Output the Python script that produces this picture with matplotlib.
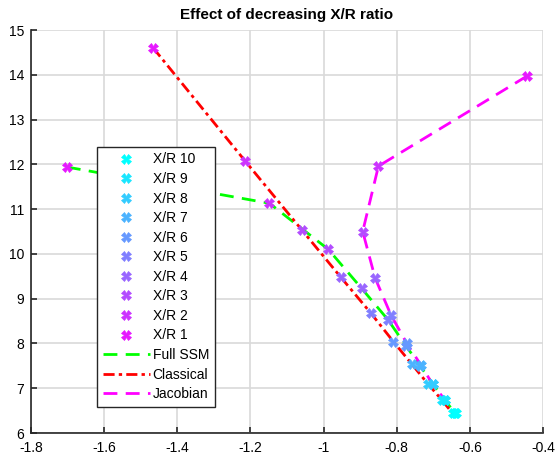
import matplotlib
matplotlib.use("Agg")
import matplotlib.pyplot as plt
from matplotlib.lines import Line2D
import numpy as np

plt.rcParams['font.family'] = ['Liberation Sans', 'DejaVu Sans']

xr_labels = ["X/R 10", "X/R 9", "X/R 8", "X/R 7", "X/R 6",
             "X/R 5", "X/R 4", "X/R 3", "X/R 2", "X/R 1"]
xr_values = [10, 9, 8, 7, 6, 5, 4, 3, 2, 1]

# points ordered X/R 1 .. 10
full_x = [-1.702, -1.148, -0.987, -0.896, -0.824, -0.775, -0.736, -0.702, -0.669, -0.641]
full_y = [11.94, 11.13, 10.10, 9.23, 8.53, 7.95, 7.50, 7.10, 6.74, 6.45]
class_x = [-1.466, -1.215, -1.060, -0.953, -0.871, -0.809, -0.759, -0.715, -0.677, -0.647]
class_y = [14.60, 12.08, 10.54, 9.48, 8.68, 8.04, 7.54, 7.10, 6.74, 6.44]
jac_x = [-0.444, -0.850, -0.893, -0.859, -0.816, -0.773, -0.734, -0.702, -0.668, -0.638]
jac_y = [13.97, 11.96, 10.50, 9.46, 8.64, 8.01, 7.52, 7.09, 6.74, 6.44]

fig = plt.figure(figsize=(5.55, 4.61), dpi=100)
ax = fig.add_axes([31/555, 28/461, 512/555, 403/461])

cmap = plt.get_cmap('cool')
def col(k):
    return cmap((10 - k) / 10)

ax.plot(full_x, full_y, color=(0, 1, 0), ls=(0, (5, 3)), lw=2, zorder=2)
ax.plot(class_x, class_y, color=(1, 0, 0), ls=(0, (4, 1.5, 1.2, 1.5)), lw=2, zorder=2)
ax.plot(jac_x, jac_y, color=(1, 0, 1), ls=(0, (5, 3)), lw=2, zorder=2)

handles = []
for lab, k in zip(xr_labels, xr_values):
    i = k - 1
    c = col(k)
    ax.plot([full_x[i], class_x[i], jac_x[i]], [full_y[i], class_y[i], jac_y[i]],
            ls='none', marker='X', ms=7, mfc=c, mec=c, mew=0.5, zorder=3)
    handles.append(Line2D([], [], ls='none', marker='X', ms=7, mfc=c, mec=c, mew=0.5, label=lab))

handles.append(Line2D([], [], color=(0, 1, 0), ls=(0, (5, 3)), lw=2, label='Full SSM'))
handles.append(Line2D([], [], color=(1, 0, 0), ls=(0, (4, 1.5, 1.2, 1.5)), lw=2, label='Classical'))
handles.append(Line2D([], [], color=(1, 0, 1), ls=(0, (5, 3)), lw=2, label='Jacobian'))

ax.set_xlim(-1.8, -0.4)
ax.set_ylim(6, 15)
ax.set_xticks(np.arange(-1.8, -0.39, 0.2))
ax.set_xticklabels(['-1.8', '-1.6', '-1.4', '-1.2', '-1', '-0.8', '-0.6', '-0.4'])
ax.set_yticks(range(6, 16))
ax.grid(True, color='#d9d9d9', lw=1.2)
ax.set_axisbelow(True)
for s in ['top', 'right']:
    ax.spines[s].set_visible(False)
for s in ['left', 'bottom']:
    ax.spines[s].set_color('#262626')
    ax.spines[s].set_linewidth(1.2)
ax.tick_params(direction='in', length=4, width=1.2, labelsize=10, colors='#262626',
               labelcolor='black', top=False, right=False)
ax.tick_params(axis='x', pad=6)
ax.tick_params(axis='y', pad=5)
ax.set_title('Effect of decreasing X/R ratio', fontsize=11, fontweight='bold', pad=8)

leg = ax.legend(handles=handles, loc='upper left', bbox_to_anchor=(0.129, 0.71),
                borderaxespad=0, fontsize=10, labelspacing=0.4, handlelength=3.4,
                handletextpad=0.2, numpoints=1, fancybox=False, framealpha=1,
                edgecolor='#262626', borderpad=0.4)
leg.get_frame().set_linewidth(1.0)

fig.savefig('out.png', dpi=100)
